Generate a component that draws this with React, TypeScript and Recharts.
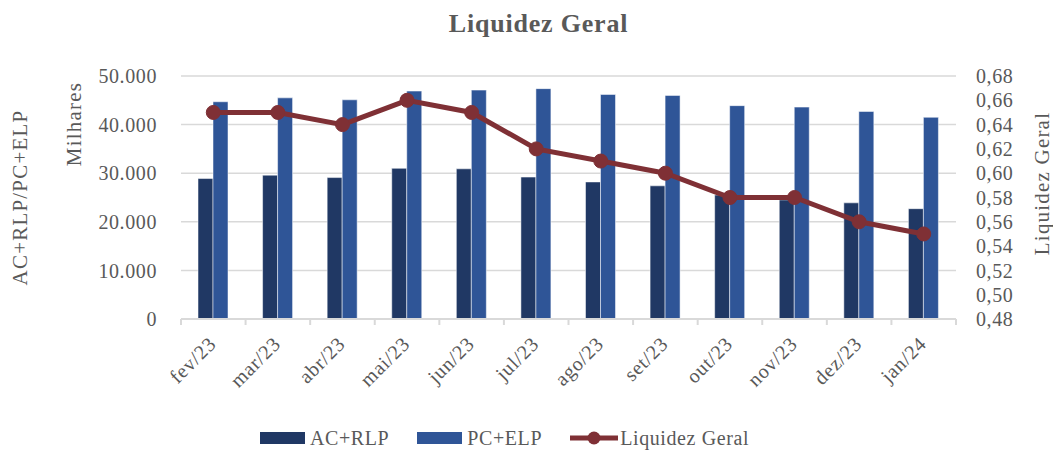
import React from 'react';
import {
  ComposedChart,
  Bar,
  Line,
  XAxis,
  YAxis,
  CartesianGrid,
  Legend,
  Label
} from 'recharts';

const months = ['fev/23', 'mar/23', 'abr/23', 'mai/23', 'jun/23', 'jul/23', 'ago/23', 'set/23', 'out/23', 'nov/23', 'dez/23', 'jan/24'];
const acRlp = [28900, 29600, 29100, 31000, 30900, 29200, 28200, 27400, 25500, 24500, 23900, 22700];
const pcElp = [44700, 45500, 45100, 46900, 47100, 47400, 46200, 46000, 43900, 43600, 42700, 41500];
const liquidez = [0.65, 0.65, 0.64, 0.66, 0.65, 0.62, 0.61, 0.60, 0.58, 0.58, 0.56, 0.55];
const leftTicks = [0, 10000, 20000, 30000, 40000, 50000];
const rightTicks = [0.48, 0.5, 0.52, 0.54, 0.56, 0.58, 0.6, 0.62, 0.64, 0.66, 0.68];

const data = months.map((m, i) => ({ month: m, ac: acRlp[i], pc: pcElp[i], lg: liquidez[i] }));

// cores
const DARK = '#203864';
const BLUE = '#2f5597';
const RED = '#7f3035';
const TEXT = '#595959';
const GRID = '#d9d9d9';
const FONT = '"Liberation Serif", "DejaVu Serif", serif';

const fmtThousands = (v: number) => (v === 0 ? '0' : String(v).replace(/\B(?=(\d{3})+(?!\d))/g, '.'));
const fmtComma = (v: number) => v.toFixed(2).replace('.', ',');

const tickStyle = { fill: TEXT, fontSize: 20, fontFamily: FONT, letterSpacing: 0.6 };

const MonthTick = (props: any) => {
  const { x, y, payload, index, visibleTicksCount, width } = props;
  const band = (width || 775) / (visibleTicksCount || 12);
  const axisY = y - 8;
  return (
    <g>
      <line x1={x - band / 2} x2={x - band / 2} y1={axisY} y2={axisY + 6} stroke={GRID} strokeWidth={2} />
      {index === visibleTicksCount - 1 && (
        <line x1={x + band / 2} x2={x + band / 2} y1={axisY} y2={axisY + 6} stroke={GRID} strokeWidth={2} />
      )}
      <text
        transform={`translate(${x + 4},${y + 18}) rotate(-45)`}
        textAnchor="end"
        fill={TEXT}
        fontSize={20}
        fontFamily={FONT}
        style={{ letterSpacing: 0.8 }}
      >
        {payload.value}
      </text>
    </g>
  );
};

const LeftTitles = (props: any) => {
  const { x, y, height } = props.viewBox;
  return (
    <g fill={TEXT} fontFamily={FONT} fontSize={21} style={{ letterSpacing: 1.2 }}>
      <text transform={`translate(${x + 27},${y + height / 2}) rotate(-90)`} textAnchor="middle">
        AC+RLP/PC+ELP
      </text>
      <text transform={`translate(${x + 81},${y + 48}) rotate(-90)`} textAnchor="middle">
        Milhares
      </text>
    </g>
  );
};

const RightTitle = (props: any) => {
  const { x, y, height } = props.viewBox;
  return (
    <text
      transform={`translate(${x + 93},${y + height / 2 - 14}) rotate(-90)`}
      textAnchor="middle"
      fill={TEXT}
      fontFamily={FONT}
      fontSize={21}
      style={{ letterSpacing: 1.2 }}
    >
      Liquidez Geral
    </text>
  );
};

const LegendBox = () => (
  <div
    style={{
      display: 'flex',
      justifyContent: 'center',
      alignItems: 'center',
      paddingRight: 44,
      height: 20,
      fontFamily: FONT,
      fontSize: 20,
      letterSpacing: 0.6,
      color: TEXT
    }}
  >
    <span style={{ display: 'inline-block', width: 45, height: 12, background: DARK, marginRight: 5 }} />
    <span style={{ marginRight: 28 }}>AC+RLP</span>
    <span style={{ display: 'inline-block', width: 45, height: 12, background: BLUE, marginRight: 5 }} />
    <span style={{ marginRight: 28 }}>PC+ELP</span>
    <svg width={48} height={16} style={{ marginRight: 2 }}>
      <line x1={0} x2={48} y1={8} y2={8} stroke={RED} strokeWidth={5} />
      <circle cx={24} cy={8} r={6.5} fill={RED} />
    </svg>
    <span>Liquidez Geral</span>
  </div>
);

export default function App() {
  return (
    <div style={{ position: 'absolute', left: 0, top: 0, width: 1053, height: 450, background: '#fff' }}>
      <div
        style={{
          position: 'absolute',
          top: 9,
          left: 12,
          width: 1053,
          textAlign: 'center',
          fontFamily: FONT,
          fontWeight: 'bold',
          fontSize: 26,
          letterSpacing: 0.8,
          color: TEXT
        }}
      >
        Liquidez Geral
      </div>
      <ComposedChart
        width={1053}
        height={450}
        data={data}
        margin={{ top: 76, right: 0, left: 0, bottom: 2 }}
        barGap={0}
        barSize={15}
      >
        <CartesianGrid vertical={false} stroke={GRID} strokeWidth={1.5} yAxisId="left" />
        <XAxis
          dataKey="month"
          height={109}
          interval={0}
          tickLine={false}
          axisLine={{ stroke: GRID, strokeWidth: 2 }}
          tick={<MonthTick />}
        />
        <YAxis
          yAxisId="left"
          width={181}
          domain={[0, 50000]}
          ticks={leftTicks}
          interval={0}
          tickFormatter={fmtThousands}
          axisLine={false}
          tickLine={false}
          tickMargin={18}
          tick={tickStyle}
        >
          <Label content={<LeftTitles />} />
        </YAxis>
        <YAxis
          yAxisId="right"
          orientation="right"
          width={97}
          domain={[0.48, 0.68]}
          ticks={rightTicks}
          interval={0}
          tickFormatter={fmtComma}
          axisLine={false}
          tickLine={false}
          tickMargin={14}
          tick={tickStyle}
        >
          <Label content={<RightTitle />} />
        </YAxis>
        <Legend verticalAlign="bottom" content={<LegendBox />} />
        <Bar yAxisId="left" dataKey="ac" name="AC+RLP" fill={DARK} stroke="#ffffff" strokeOpacity={0.5} strokeWidth={1} isAnimationActive={false} />
        <Bar yAxisId="left" dataKey="pc" name="PC+ELP" fill={BLUE} stroke="#ffffff" strokeOpacity={0.5} strokeWidth={1} isAnimationActive={false} />
        <Line
          yAxisId="right"
          dataKey="lg"
          name="Liquidez Geral"
          stroke={RED}
          strokeWidth={5}
          dot={{ r: 7, fill: RED, stroke: RED, strokeWidth: 1 }}
          isAnimationActive={false}
        />
      </ComposedChart>
    </div>
  );
}
